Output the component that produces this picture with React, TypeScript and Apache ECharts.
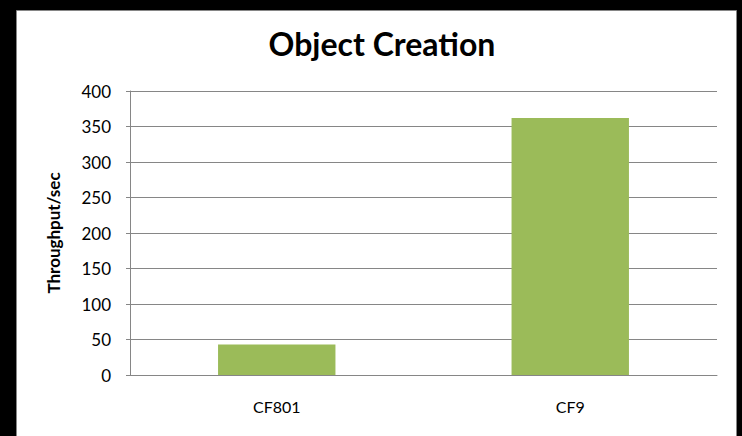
import React, { useEffect, useRef } from "react";
import * as echarts from "echarts";

const categories = ["CF801", "CF9"];
const throughput = [43, 362];
const yTicks = { min: 0, max: 400, interval: 50 };
const titleText = "Object Creation";
const yAxisTitle = "Throughput/sec";

export default function App() {
  const ref = useRef<HTMLDivElement>(null);
  useEffect(() => {
    if (!ref.current) return;
    const chart = echarts.init(ref.current, null, { renderer: "svg" });
    const font = "Lato, 'Open Sans', sans-serif";
    chart.setOption({
      animation: false,
      backgroundColor: "#000000",
      graphic: [
        {
          type: "rect",
          z: -10,
          shape: { x: 16.5, y: 10.5, width: 720, height: 440 },
          style: { fill: "#ffffff", stroke: "#868686", lineWidth: 1 },
        },
      ],
      title: {
        text: titleText,
        left: 377,
        top: 22,
        textAlign: "center",
        textStyle: { fontFamily: font, fontWeight: "bold", fontSize: 32, color: "#000" },
      },
      grid: { left: 130, right: 25, top: 91, bottom: 61 },
      xAxis: {
        type: "category",
        data: categories,
        axisLine: { lineStyle: { color: "#868686" } },
        axisTick: { show: false },
        axisLabel: { margin: 23, fontFamily: font, fontSize: 16, color: "#000" },
      },
      yAxis: {
        type: "value",
        min: yTicks.min,
        max: yTicks.max,
        interval: yTicks.interval,
        name: yAxisTitle,
        nameLocation: "middle",
        nameGap: 68,
        nameTextStyle: { fontFamily: font, fontWeight: "bold", fontSize: 17, color: "#000" },
        axisLine: { show: true, lineStyle: { color: "#868686" } },
        axisTick: { show: true, length: 4, lineStyle: { color: "#868686" } },
        splitLine: { lineStyle: { color: "#868686" } },
        axisLabel: { margin: 19, fontFamily: font, fontSize: 17, color: "#000" },
      },
      series: [
        {
          type: "bar",
          data: throughput,
          barWidth: "40%",
          itemStyle: { color: "#9BBB59" },
        },
      ],
    });
    return () => chart.dispose();
  }, []);
  return (
    <div
      ref={ref}
      style={{ position: "fixed", left: 0, top: 0, width: 742, height: 436 }}
    />
  );
}
